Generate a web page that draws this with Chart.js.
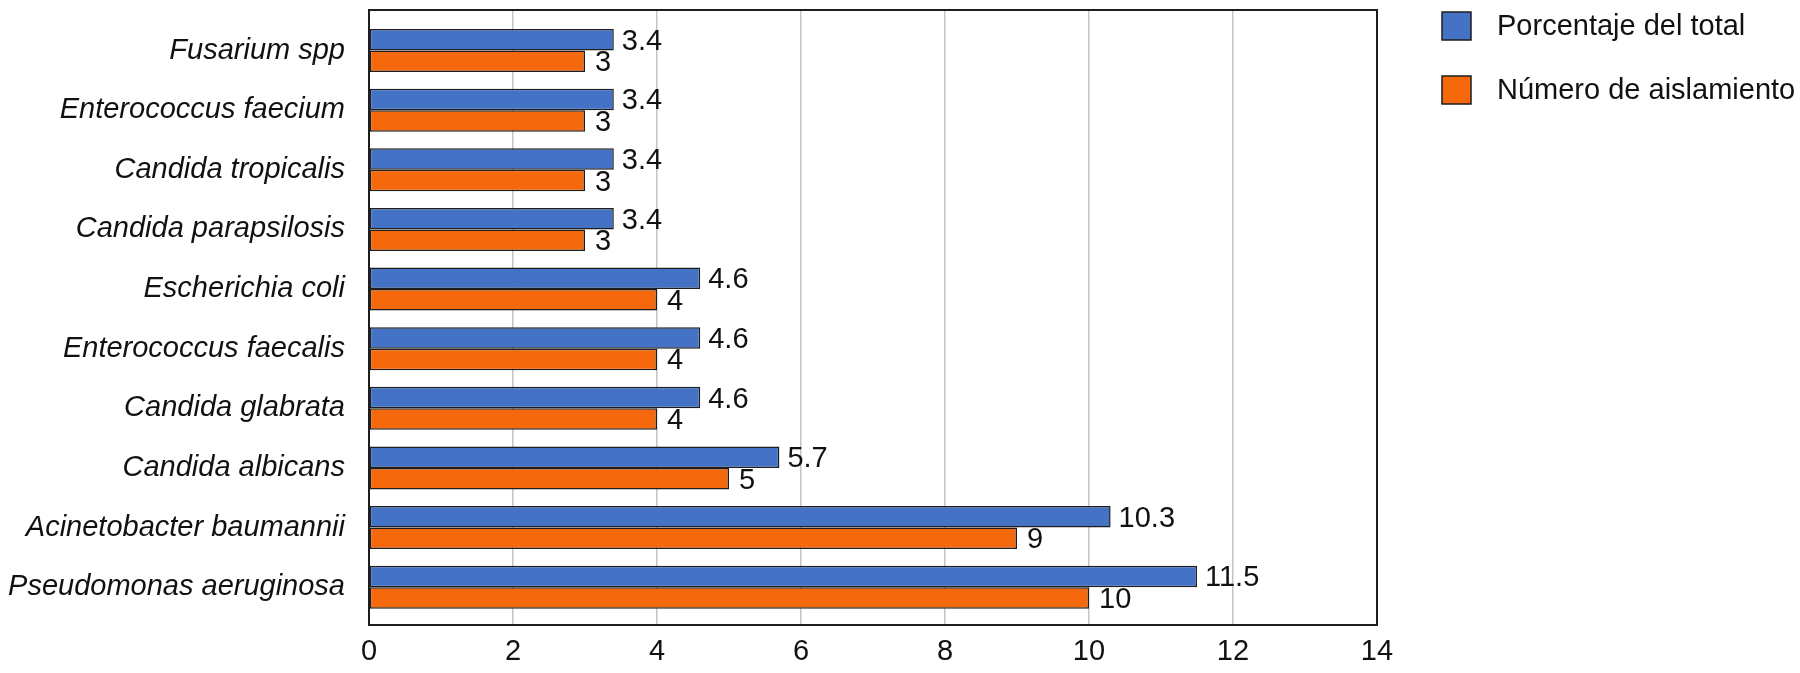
<!DOCTYPE html>
<html>
<head>
<meta charset="utf-8">
<script src="https://cdn.jsdelivr.net/npm/chart.js@4/dist/chart.umd.min.js"></script>
<style>
  html, body { margin: 0; padding: 0; background: #ffffff; }
  #wrap { width: 1800px; height: 673px; position: relative; }
</style>
</head>
<body>
<div id="wrap"><canvas id="c" width="1800" height="673"></canvas></div>
<script>
const categories = [
  "Fusarium spp",
  "Enterococcus faecium",
  "Candida tropicalis",
  "Candida parapsilosis",
  "Escherichia coli",
  "Enterococcus faecalis",
  "Candida glabrata",
  "Candida albicans",
  "Acinetobacter baumannii",
  "Pseudomonas aeruginosa"
];
const seriesNames = ["Porcentaje del total", "Número de aislamiento"];
const porcentaje = [3.4, 3.4, 3.4, 3.4, 4.6, 4.6, 4.6, 5.7, 10.3, 11.5];
const aislamientos = [3, 3, 3, 3, 4, 4, 4, 5, 9, 10];
const xTicks = [0, 2, 4, 6, 8, 10, 12, 14];

const BLUE = '#4472C4';
const ORANGE = '#F5680C';
const FONT = '"Liberation Sans", Arial, Helvetica, sans-serif';

const toPoints = arr => arr.map((v, i) => ({ x: v, y: i }));

const boxPlugin = {
  id: 'boxPlugin',
  afterDatasetsDraw(chart) {
    const { ctx, chartArea: a } = chart;
    ctx.save();
    // data labels
    ctx.font = '29px ' + FONT;
    ctx.fillStyle = '#111111';
    ctx.textAlign = 'left';
    ctx.textBaseline = 'middle';
    chart.data.datasets.forEach((ds, di) => {
      const meta = chart.getDatasetMeta(di);
      meta.data.forEach((el, i) => {
        const v = ds.data[i].x;
        ctx.fillText(String(v), el.x + (di === 1 ? 10 : 8), el.y + 2);
      });
    });
    // plot border
    ctx.strokeStyle = '#1e1e1e';
    ctx.lineWidth = 2;
    ctx.strokeRect(a.left, a.top, a.right - a.left, a.bottom - a.top);
    // legend
    const colors = [BLUE, ORANGE];
    seriesNames.forEach((name, k) => {
      const bx = a.right + 65, by = a.top + 2 + k * 64;
      ctx.fillStyle = colors[k];
      ctx.fillRect(bx, by, 29, 28);
      ctx.strokeStyle = '#1e1e1e';
      ctx.lineWidth = 1.5;
      ctx.strokeRect(bx, by, 29, 28);
      ctx.fillStyle = '#111111';
      ctx.font = '29px ' + FONT;
      ctx.textBaseline = 'middle';
      ctx.fillText(name, bx + 55, by + 15);
    });
    ctx.restore();
  }
};

new Chart(document.getElementById('c'), {
  type: 'bar',
  data: {
    datasets: [
      {
        label: seriesNames[0],
        data: toPoints(porcentaje),
        backgroundColor: BLUE,
        borderColor: '#1e1e1e',
        borderWidth: 1.5,
        borderSkipped: false
      },
      {
        label: seriesNames[1],
        data: toPoints(aislamientos),
        backgroundColor: ORANGE,
        borderColor: '#1e1e1e',
        borderWidth: 1.5,
        borderSkipped: false
      }
    ]
  },
  options: {
    indexAxis: 'y',
    responsive: false,
    animation: false,
    devicePixelRatio: 1,
    categoryPercentage: 0.72,
    barPercentage: 1.0,
    layout: { padding: { top: 10, right: 423, left: 0, bottom: 0 } },
    plugins: {
      legend: { display: false },
      tooltip: { enabled: false }
    },
    scales: {
      x: {
        type: 'linear',
        min: 0,
        max: 14,
        offset: false,
        afterBuildTicks: s => { s.ticks = xTicks.map(v => ({ value: v })); },
        afterFit: s => { s.height = 48; s.paddingLeft = 0; s.paddingRight = 0; },
        grid: { color: '#c4c4c4', lineWidth: 1.5, drawTicks: false },
        border: { display: false },
        ticks: {
          padding: 10,
          color: '#111111',
          font: { family: FONT, size: 29 }
        }
      },
      y: {
        type: 'linear',
        reverse: true,
        offset: false,
        min: -0.68,
        max: 9.634,
        afterBuildTicks: s => { s.ticks = categories.map((_, i) => ({ value: i })); },
        afterFit: s => { s.width = 369; s.paddingTop = 0; s.paddingBottom = 0; },
        grid: { display: false, drawTicks: false, offset: false },
        border: { display: false },
        ticks: {
          padding: 24,
          color: '#111111',
          font: { family: FONT, size: 29, style: 'italic' },
          callback: v => categories[v]
        }
      }
    }
  },
  plugins: [boxPlugin]
});
</script>
</body>
</html>
